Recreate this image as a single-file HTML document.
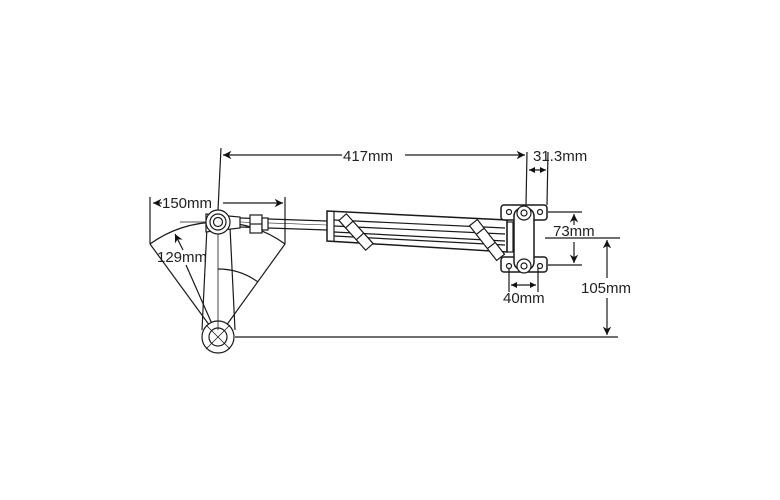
<!DOCTYPE html>
<html><head><meta charset="utf-8"><style>
html,body{margin:0;padding:0;background:#fff;}
svg{display:block;}
text{font-family:"Liberation Sans",Arial,sans-serif;font-size:15px;fill:#222;}
</style></head><body>
<svg width="780" height="500" viewBox="0 0 780 500" xmlns="http://www.w3.org/2000/svg">
<defs>
<marker id="a" viewBox="0 0 10 10" refX="10" refY="5" markerWidth="9" markerHeight="7" orient="auto-start-reverse"><path d="M0,0 L10,5 L0,10 L3,5 z" fill="#111"/></marker>
<marker id="s" viewBox="0 0 10 10" refX="10" refY="5" markerWidth="6" markerHeight="5" orient="auto-start-reverse"><path d="M0,0 L10,5 L0,10 z" fill="#111"/></marker>
</defs>
<g stroke="#1a1a1a" stroke-width="1.2" fill="none">
<line x1="218" y1="337" x2="150" y2="244"/>
<line x1="218" y1="337" x2="285" y2="244"/>
<path d="M150,244 A115,115 0 0 1 285,244"/>
<path d="M218,269 A68,68 0 0 1 258,282"/>
<line x1="150" y1="197" x2="150" y2="244"/>
<line x1="285" y1="197" x2="285" y2="244"/>
<line x1="153" y1="203" x2="162" y2="203" marker-start="url(#a)"/>
<line x1="223" y1="203" x2="283" y2="203" marker-end="url(#a)"/>
<line x1="186" y1="265" x2="216" y2="333" marker-end="url(#s)"/>
<line x1="183" y1="250" x2="175" y2="234" marker-end="url(#a)"/>
<line x1="207" y1="227" x2="202" y2="330"/>
<line x1="230" y1="227" x2="235" y2="330"/>
<circle cx="218" cy="337" r="16" fill="#fff"/>
<circle cx="218" cy="337" r="9"/>
<line x1="206" y1="325" x2="230" y2="349" stroke-width="0.8"/>
<line x1="230" y1="325" x2="206" y2="349" stroke-width="0.8"/>
<line x1="218" y1="232" x2="218" y2="330" stroke-width="0.8"/>
<path d="M206,214 L240,217 L240,228 L206,232 z" fill="#fff"/>
<circle cx="218" cy="222" r="12" fill="#fff"/>
<circle cx="218" cy="222" r="8"/>
<circle cx="218" cy="222" r="4.5"/>
<line x1="180" y1="222" x2="206" y2="222" stroke-width="0.8"/>
<line x1="221" y1="148" x2="218" y2="210"/>
<line x1="223" y1="155" x2="342" y2="155" marker-start="url(#a)"/>
<line x1="405" y1="155" x2="525" y2="155" marker-end="url(#a)"/>
<line x1="240" y1="218" x2="327" y2="221"/>
<line x1="240" y1="227" x2="327" y2="230"/>
<line x1="240" y1="222" x2="327" y2="225" stroke-width="0.6"/>
<rect x="250" y="215" width="12" height="18" fill="#fff"/>
<line x1="250" y1="224" x2="262" y2="224"/>
<rect x="262" y="218" width="6" height="12" fill="#fff"/>
<path d="M327,211 L507,220 L507,252 L327,241 z" fill="#fff" stroke-width="1.5"/>
<line x1="334" y1="212" x2="334" y2="241"/>
<line x1="334" y1="220" x2="505" y2="228"/>
<line x1="334" y1="226" x2="505" y2="234"/>
<line x1="334" y1="232" x2="505" y2="241"/>
<line x1="334" y1="236" x2="505" y2="245"/>
<g transform="rotate(48 356 232)"><rect x="336" y="227" width="40" height="10" fill="#fff"/><line x1="346" y1="227" x2="346" y2="237"/><line x1="362" y1="227" x2="362" y2="237"/></g>
<g transform="rotate(52 487 240)"><rect x="465" y="235" width="44" height="10" fill="#fff"/><line x1="476" y1="235" x2="476" y2="245"/><line x1="494" y1="235" x2="494" y2="245"/></g>
<rect x="501" y="205" width="46" height="15" rx="3" fill="#fff" stroke-width="1.5"/>
<rect x="501" y="257" width="46" height="15" rx="3" fill="#fff" stroke-width="1.5"/>
<rect x="514" y="208" width="20" height="62" rx="8" fill="#fff" stroke-width="1.5"/>
<circle cx="524" cy="213" r="7" fill="#fff"/><circle cx="524" cy="213" r="3"/>
<circle cx="524" cy="266" r="7" fill="#fff"/><circle cx="524" cy="266" r="3"/>
<circle cx="509" cy="212" r="2.5"/><circle cx="540" cy="212" r="2.5"/>
<circle cx="509" cy="266" r="2.5"/><circle cx="540" cy="266" r="2.5"/>
<rect x="507" y="222" width="6" height="30"/>
<line x1="527" y1="152" x2="526" y2="205"/>
<line x1="548" y1="152" x2="547" y2="205"/>
<line x1="529" y1="170" x2="546" y2="170" marker-start="url(#s)" marker-end="url(#s)"/>
<line x1="548" y1="212" x2="582" y2="212"/>
<line x1="548" y1="265" x2="582" y2="265"/>
<line x1="574" y1="225" x2="574" y2="214" marker-end="url(#a)"/>
<line x1="574" y1="242" x2="574" y2="263" marker-end="url(#a)"/>
<line x1="545" y1="238" x2="620" y2="238"/>
<line x1="607" y1="278" x2="607" y2="240" marker-end="url(#a)"/>
<line x1="607" y1="298" x2="607" y2="335" marker-end="url(#a)"/>
<line x1="235" y1="337" x2="618" y2="337"/>
<line x1="509" y1="268" x2="509" y2="292"/>
<line x1="538" y1="268" x2="538" y2="292"/>
<line x1="511" y1="285" x2="536" y2="285" marker-start="url(#s)" marker-end="url(#s)"/>
</g>
<text x="343" y="161">417mm</text>
<text x="533" y="161">31.3mm</text>
<text x="162" y="208">150mm</text>
<text x="157" y="262">129mm</text>
<text x="553" y="236">73mm</text>
<text x="581" y="293">105mm</text>
<text x="503" y="303">40mm</text>
</svg>
</body></html>
